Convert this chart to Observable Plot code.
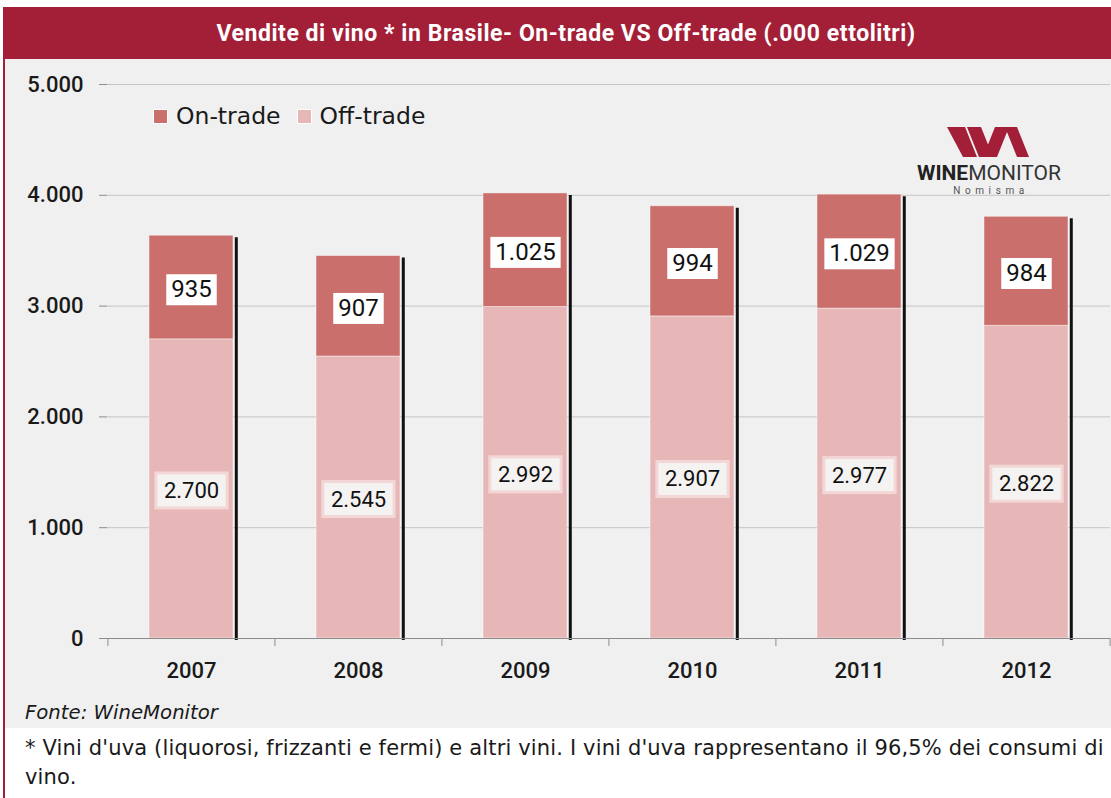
<!DOCTYPE html>
<html>
<head>
<meta charset="utf-8">
<script src="https://cdn.jsdelivr.net/npm/d3@7"></script>
<script src="https://cdn.jsdelivr.net/npm/@observablehq/plot@0.6"></script>
<style>
  html, body { margin: 0; padding: 0; background: #ffffff; }
  #page { position: relative; width: 1111px; height: 798px; background: #ffffff; overflow: hidden; font-family: Roboto, "Noto Sans", sans-serif; color: #1a1a1a; }
  #border { position: absolute; left: 3px; top: 7px; width: 2px; height: 791px; background: #A31F37; }
  #titlebar { position: absolute; left: 5px; top: 7px; width: 1106px; height: 52px; background: #A31F37; color: #fff; font-weight: 700; font-size: 23px; display: flex; align-items: center; justify-content: center; letter-spacing: 0.55px; box-sizing: border-box; padding-left: 16px; }
  #panel { position: absolute; left: 5px; top: 59px; width: 1106px; height: 669px; background: #F0F0F0; }
  #chart { position: absolute; left: 0; top: 59px; }
  #legend { position: absolute; left: 153px; top: 102px; display: flex; align-items: center; font-size: 23.5px; color: #1a1a1a; font-family: "DejaVu Sans", sans-serif; }
  .sw { display: inline-block; width: 13px; height: 13px; border: 1px solid #fff; margin-right: 8px; }
  .li { display: flex; align-items: center; margin-right: 16px; }
  #fonte { position: absolute; left: 25px; top: 701px; font-size: 19.7px; font-style: italic; color: #1a1a1a; font-family: "DejaVu Sans", sans-serif; }
  #note { position: absolute; left: 25px; top: 734px; font-size: 21px; letter-spacing: 0.15px; line-height: 29px; color: #1a1a1a; white-space: nowrap; font-family: "DejaVu Sans", sans-serif; }
  #logo { position: absolute; left: 905px; top: 120px; }
</style>
</head>
<body>
<div id="page">
  <div id="panel"></div>
  <div id="border"></div>
  <div id="titlebar">Vendite di vino * in Brasile- On-trade VS Off-trade (.000 ettolitri)</div>
  <div id="chart"></div>
  <div id="legend"></div>
  <svg id="logo" width="180" height="80" viewBox="0 0 180 80">
    <g fill="#A31F37">
      <polygon points="42,7 60,7 72,37 58,37"/>
      <polygon points="62,7 76,7 88,37 74,37"/>
      <polygon points="78,37 90,7 104,7 92,37"/>
      <polygon points="100,7 112,7 124,37 112,37"/>
    </g>
    <text x="84" y="60" text-anchor="middle" font-family="Roboto, sans-serif" font-size="21" fill="#222"><tspan font-weight="700">WINE</tspan><tspan font-weight="400" fill="#333">MONITOR</tspan></text>
    <text x="86" y="74" text-anchor="middle" font-family="Roboto, sans-serif" font-size="10" letter-spacing="4.6" fill="#555">Nomisma</text>
  </svg>
  <div id="fonte">Fonte: WineMonitor</div>
  <div id="note">* Vini d'uva (liquorosi, frizzanti e fermi) e altri vini. I vini d'uva rappresentano il 96,5% dei consumi di<br>vino.</div>
</div>
<script>
const years = ["2007", "2008", "2009", "2010", "2011", "2012"];
const onTrade = [935, 907, 1025, 994, 1029, 984];
const offTrade = [2700, 2545, 2992, 2907, 2977, 2822];
const seriesNames = ["On-trade", "Off-trade"];
const seriesColors = ["#CB6F6C", "#E7B7B7"];
const yTicks = [0, 1000, 2000, 3000, 4000, 5000];

const rows = years.flatMap((y, i) => [
  {year: y, type: "Off-trade", value: offTrade[i]},
  {year: y, type: "On-trade", value: onTrade[i]}
]);
const totals = years.map((y, i) => ({year: y, total: onTrade[i] + offTrade[i]}));
const fmt = d => d3.format(",")(d).replace(/,/g, ".");

const W = 1111, mL = 107, mR = 1;
const step = (W - mL - mR) / years.length;
const bw = step * 0.5;
const axisColor = "#8c8c8c";

const chart = Plot.plot({
  width: W,
  height: 640,
  marginTop: 25,
  marginLeft: mL,
  marginRight: mR,
  marginBottom: 61,
  style: {background: "transparent", fontFamily: "Roboto, sans-serif", color: "#1a1a1a", overflow: "visible"},
  x: {domain: years, paddingInner: 0.5, paddingOuter: 0.25, align: 0.5},
  y: {domain: [0, 5000]},
  color: {domain: seriesNames, range: seriesColors},
  marks: [
    Plot.ruleY(yTicks.filter(d => d > 0), {stroke: "#c4c4c4", strokeWidth: 1}),
    Plot.barY(rows, {x: "year", y: "value", fill: "type", z: "type", order: ["Off-trade", "On-trade"], stroke: "#ffffff", strokeOpacity: 0.45, strokeWidth: 1}),
    Plot.ruleX(totals, {x: "year", y1: 0, y2: "total", dx: bw / 2 + 3, stroke: "#111", strokeWidth: 3, insetTop: 2, insetBottom: -2}),
    Plot.ruleY([0], {stroke: axisColor, strokeWidth: 1}),
    Plot.axisY({ticks: yTicks, tickSize: 8, tickPadding: 16, tickFormat: fmt, fontSize: 22, fontWeight: 500, stroke: axisColor, line: true, label: null}),
    Plot.axisX({tickSize: 8, dx: -step / 2, text: null, stroke: axisColor, label: null}),
    Plot.axisX([years[years.length - 1]], {tickSize: 8, dx: step / 2, text: null, stroke: axisColor, label: null}),
    Plot.axisX({tickSize: 0, tickPadding: 24, fontSize: 22, fontWeight: 500, label: null}),
    Plot.text(rows, Plot.stackY({
      x: "year", y: "value", z: "type", order: ["Off-trade", "On-trade"],
      text: d => fmt(d.value),
      fontSize: d => d.type === "On-trade" ? 24 : 22,
      dy: 2,
      fill: "#111",
      className: "vlabel"
    }))
  ]
});
document.getElementById("chart").appendChild(chart);

// boxes behind value labels (same transform as each label)
d3.select(chart).selectAll("g.vlabel text").each(function() {
  const b = this.getBBox();
  const fs = parseFloat(this.getAttribute("font-size") || getComputedStyle(this).fontSize);
  const isOn = fs >= 24;
  const padX = isOn ? 5 : 8, padY = isOn ? 2 : 5;
  const r = document.createElementNS("http://www.w3.org/2000/svg", "rect");
  const t = this.getAttribute("transform");
  if (t) r.setAttribute("transform", t);
  r.setAttribute("x", b.x - padX);
  r.setAttribute("y", b.y - padY + (isOn ? 1 : 0));
  r.setAttribute("width", b.width + 2 * padX);
  r.setAttribute("height", b.height + 2 * padY - (isOn ? 1 : 0));
  r.setAttribute("fill", isOn ? "#ffffff" : "#f5f2f2");
  if (!isOn) { r.setAttribute("stroke", "#f3d6d6"); r.setAttribute("stroke-width", 3); }
  this.parentNode.insertBefore(r, this);
});

// legend
const legend = d3.select("#legend");
seriesNames.forEach((name, i) => {
  const item = legend.append("div").attr("class", "li");
  item.append("span").attr("class", "sw").style("background", seriesColors[i]);
  item.append("span").text(name);
});
</script>
</body>
</html>
